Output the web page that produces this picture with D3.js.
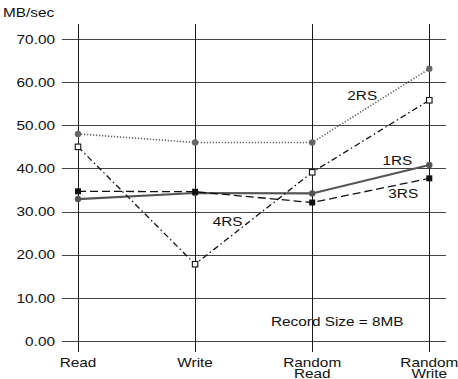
<!DOCTYPE html>
<html>
<head>
<meta charset="utf-8">
<script src="https://cdn.jsdelivr.net/npm/d3@7/dist/d3.min.js"></script>
<style>
  html, body { margin: 0; padding: 0; background: #fff; }
  svg { display: block; }
  text { font-family: "Liberation Sans", Arial, sans-serif; fill: #111; }
</style>
</head>
<body>
<svg id="chart" width="458" height="379"></svg>
<script>
// ---- data ----
const categories = [["Read"], ["Write"], ["Random", "Read"], ["Random", "Write"]];
const yTicks = [0, 10, 20, 30, 40, 50, 60, 70];
const yLabel = "MB/sec";
const note = "Record Size = 8MB";
const seriesNames = ["1RS", "2RS", "3RS", "4RS"];
const values1RS = [32.9, 34.3, 34.2, 40.8];
const values2RS = [48.0, 46.0, 46.0, 63.1];
const values3RS = [34.7, 34.6, 32.1, 37.7];
const values4RS = [45.0, 17.8, 39.1, 55.8];
// label anchors in data units (category index, value)
const labelIdx = [2.6, 2.3, 2.65, 1.15];
const labelVal = [40.8, 55.9, 33.2, 26.6];

const series = [
  { name: "1RS", values: values1RS, stroke: "#555", width: 2.2, dash: null, marker: "circle", fill: "#555" },
  { name: "2RS", values: values2RS, stroke: "#666", width: 1.6, dash: "1.3,1.7", marker: "circle", fill: "#666" },
  { name: "3RS", values: values3RS, stroke: "#111", width: 1.3, dash: "8,4", marker: "square", fill: "#111" },
  { name: "4RS", values: values4RS, stroke: "#111", width: 1.3, dash: "6,3,1.5,3", marker: "square", fill: "#fff" }
];

const SX = 1.18; // horizontal text stretch
const svg = d3.select("#chart");

const x = d3.scalePoint().domain(d3.range(categories.length)).range([78, 429.3]);
const step = x(1) - x(0);
const xf = i => x(0) + i * step;
const y = d3.scaleLinear().domain([0, 70]).range([341, 39]);

// horizontal grid + y tick labels
const yAxis = d3.axisLeft(y).tickValues(yTicks).tickFormat(d3.format(".2f"))
  .tickSizeInner(-(446 - 62)).tickSizeOuter(0).tickPadding(6);
const gy = svg.append("g").attr("transform", "translate(62,0)").call(yAxis);
gy.select(".domain").remove();
gy.selectAll(".tick line").attr("stroke", "#444").attr("stroke-width", 1)
  .attr("shape-rendering", "crispEdges");
gy.selectAll(".tick text").attr("font-size", 13).attr("fill", "#111")
  .attr("transform", `scale(${SX},1)`)
  .attr("font-family", "Liberation Sans, Arial, sans-serif");

// vertical grid lines
svg.append("g").selectAll("line").data(categories).join("line")
  .attr("x1", (d, i) => x(i)).attr("x2", (d, i) => x(i))
  .attr("y1", 24).attr("y2", 352)
  .attr("stroke", "#1a1a1a").attr("stroke-width", 1)
  .attr("shape-rendering", "crispEdges");

// x labels
const xl = svg.append("g").selectAll("text").data(categories).join("text")
  .attr("transform", (d, i) => `translate(${x(i)},367) scale(${SX},1)`)
  .attr("text-anchor", "middle").attr("font-size", 13);
xl.selectAll("tspan").data(d => d).join("tspan")
  .attr("x", 0).attr("dy", (d, i) => i === 0 ? 0 : 11).text(d => d);

// y label
svg.append("text").attr("transform", `translate(3,17) scale(${SX},1)`)
  .attr("font-size", 13).text(yLabel);

// lines
const line = d3.line().x((d, i) => x(i)).y(d => y(d));
series.forEach(s => {
  svg.append("path").datum(s.values)
    .attr("d", line).attr("fill", "none")
    .attr("stroke", s.stroke).attr("stroke-width", s.width)
    .attr("stroke-dasharray", s.dash);
});

// markers
series.forEach(s => {
  const g = svg.append("g");
  if (s.marker === "circle") {
    g.selectAll("circle").data(s.values).join("circle")
      .attr("cx", (d, i) => x(i)).attr("cy", d => y(d)).attr("r", 3.2)
      .attr("fill", s.fill);
  } else {
    const sz = s.fill === "#fff" ? 5.5 : 6;
    g.selectAll("rect").data(s.values).join("rect")
      .attr("x", (d, i) => x(i) - sz / 2).attr("y", d => y(d) - sz / 2)
      .attr("width", sz).attr("height", sz)
      .attr("fill", s.fill).attr("stroke", "#111").attr("stroke-width", s.fill === "#fff" ? 1.1 : 0);
  }
});

// series labels
svg.append("g").selectAll("text").data(seriesNames).join("text")
  .attr("transform", (d, i) => `translate(${xf(labelIdx[i])},${y(labelVal[i])}) scale(${SX},1)`)
  .attr("font-size", 13).text(d => d);

// note
svg.append("text").attr("transform", `translate(271,${y(3.5)}) scale(${SX},1)`)
  .attr("font-size", 13).text(note);
</script>
</body>
</html>
